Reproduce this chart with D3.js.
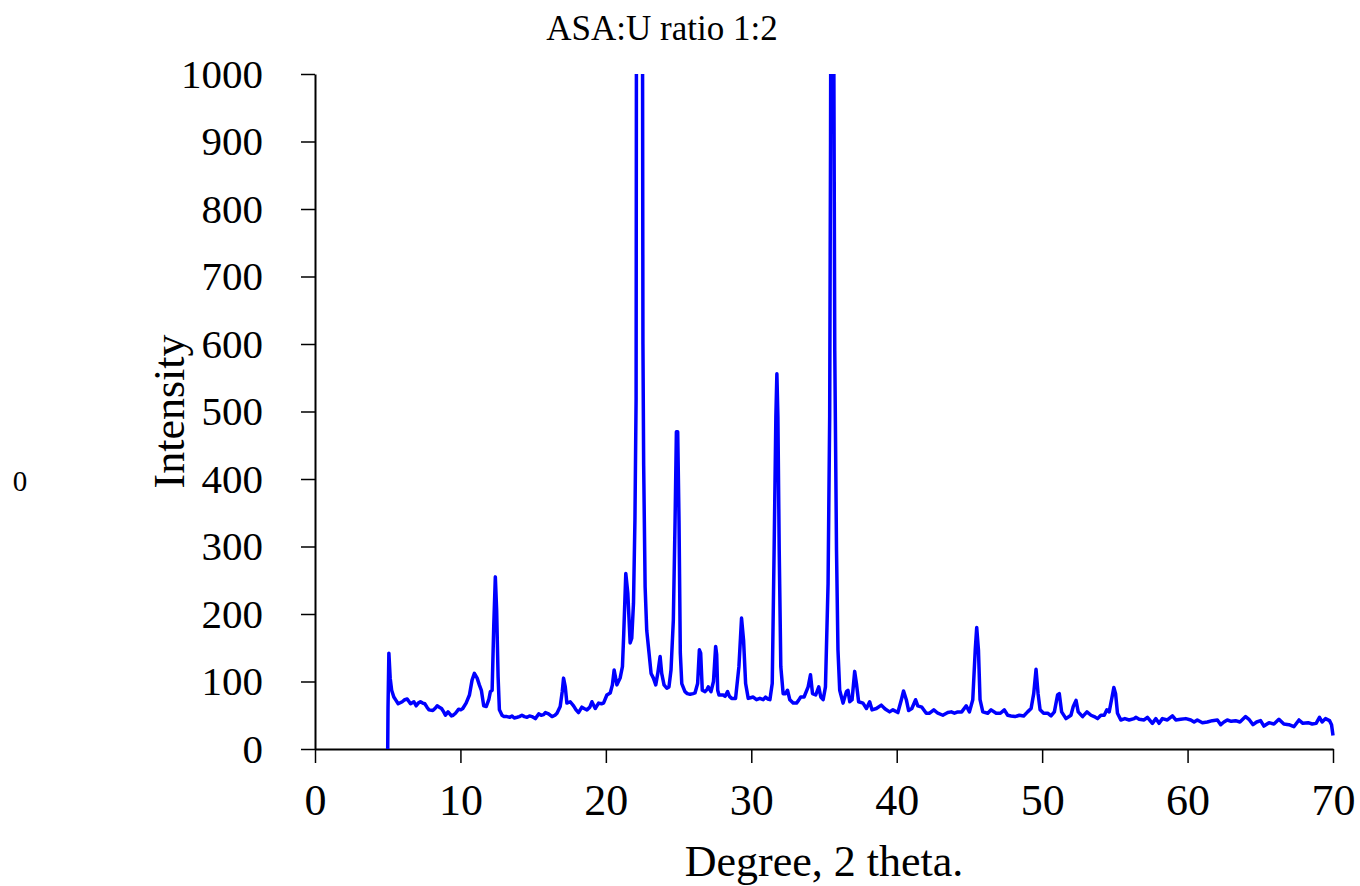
<!DOCTYPE html>
<html>
<head>
<meta charset="utf-8">
<script src="https://cdn.jsdelivr.net/npm/d3@7"></script>
<style>
  html, body { margin: 0; padding: 0; background: #ffffff; }
  svg { display: block; }
  text { font-family: "Liberation Serif", "Times New Roman", serif; fill: #000; }
</style>
</head>
<body>
<svg id="chart" width="1360" height="886"></svg>
<script>
// XRD pattern, ASA:U ratio 1:2 — diffraction angle (2θ, degrees) and intensity
const degrees = [
  5.0, 5.02, 5.08, 5.17, 5.27, 5.42, 5.57, 5.72, 6.0, 6.17, 6.34, 6.57, 6.8, 6.96, 7.1, 7.25, 7.4, 7.55, 7.7, 7.83,
  8.1, 8.25, 8.4, 8.55, 8.7, 8.85, 8.97, 9.15, 9.38, 9.5, 9.66, 9.88, 10.02, 10.16, 10.39, 10.62, 10.8, 10.96, 11.15, 11.3,
  11.44, 11.6, 11.78, 11.95, 12.06, 12.18, 12.29, 12.4, 12.49, 12.59, 12.68, 12.86, 13.0, 13.2, 13.4, 13.55, 13.7, 13.9, 14.05, 14.23,
  14.4, 14.58, 14.75, 14.92, 15.15, 15.38, 15.55, 15.72, 15.84, 16.06, 16.3, 16.5, 16.64, 16.86, 17.0, 17.09, 17.21, 17.32, 17.55, 17.78,
  17.95, 18.12, 18.35, 18.5, 18.7, 18.9, 19.04, 19.27, 19.5, 19.7, 19.84, 20.07, 20.3, 20.45, 20.57, 20.76, 20.98, 21.14, 21.23, 21.37,
  21.51, 21.67, 21.78, 21.9, 22.0, 22.08, 22.15, 22.3, 22.45, 22.55, 22.6, 22.7, 22.81, 22.97, 23.11, 23.27, 23.43, 23.57, 23.73, 23.84,
  24.0, 24.19, 24.34, 24.48, 24.64, 24.76, 24.85, 24.94, 25.03, 25.12, 25.22, 25.44, 25.6, 25.79, 26.0, 26.13, 26.31, 26.43, 26.52, 26.63,
  26.82, 26.95, 27.04, 27.23, 27.4, 27.55, 27.62, 27.69, 27.78, 28.07, 28.2, 28.37, 28.5, 28.65, 28.92, 29.15, 29.33, 29.47, 29.61, 29.79,
  29.95, 30.13, 30.36, 30.59, 30.82, 30.98, 31.15, 31.28, 31.44, 31.57, 31.69, 31.76, 31.83, 31.92, 32.03, 32.19, 32.35, 32.49, 32.65, 32.88,
  33.11, 33.25, 33.4, 33.63, 33.91, 34.07, 34.21, 34.43, 34.64, 34.78, 34.94, 35.1, 35.28, 35.39, 35.45, 35.55, 35.65, 35.74, 35.86, 35.96,
  36.08, 36.31, 36.54, 36.65, 36.77, 36.93, 37.11, 37.23, 37.38, 37.68, 37.92, 38.14, 38.3, 38.6, 38.94, 39.17, 39.29, 39.51, 39.74, 40.08,
  40.32, 40.47, 40.66, 40.82, 41.04, 41.3, 41.45, 41.73, 42.03, 42.26, 42.55, 42.83, 43.17, 43.51, 43.75, 43.97, 44.2, 44.47, 44.78, 45.0,
  45.23, 45.4, 45.5, 45.62, 45.73, 45.92, 46.26, 46.49, 46.84, 47.13, 47.4, 47.63, 47.86, 48.14, 48.43, 48.73, 49.0, 49.24, 49.42, 49.58,
  49.72, 49.86, 50.1, 50.38, 50.61, 50.84, 51.06, 51.18, 51.34, 51.64, 51.98, 52.14, 52.33, 52.48, 52.78, 53.08, 53.36, 53.58, 53.81, 54.04,
  54.27, 54.45, 54.61, 54.77, 54.93, 55.05, 55.18, 55.41, 55.69, 55.98, 56.33, 56.44, 56.67, 57.01, 57.24, 57.58, 57.82, 58.04, 58.27, 58.61,
  58.96, 59.19, 59.53, 59.88, 60.22, 60.45, 60.67, 61.02, 61.36, 61.7, 62.05, 62.28, 62.5, 62.73, 63.0, 63.3, 63.6, 63.99, 64.22, 64.5,
  64.75, 65.02, 65.25, 65.6, 65.94, 66.28, 66.62, 66.97, 67.31, 67.66, 67.93, 68.29, 68.57, 68.84, 69.07, 69.25, 69.48, 69.76, 69.9, 70.0
];
const intensity = [
  0, 60, 142, 105, 87, 77, 72, 67, 70, 73, 74, 67, 70, 64, 68, 70, 68, 67, 62, 58,
  57, 60, 64, 62, 60, 55, 50, 55, 49, 50, 53, 59, 58, 60, 68, 80, 102, 112, 105, 95,
  87, 64, 63, 73, 85, 87, 181, 255, 206, 107, 58, 50, 48, 48, 47, 49, 46, 47, 48, 50,
  48, 47, 49, 48, 45, 52, 50, 51, 54, 52, 48, 50, 53, 63, 85, 105, 92, 68, 70, 64,
  58, 54, 62, 60, 58, 62, 70, 60, 68, 67, 68, 80, 83, 95, 117, 95, 105, 122, 171, 260,
  231, 157, 164, 216, 340, 520, 2200, 2600, 2200, 600, 420, 240, 176, 142, 112, 105, 95, 112, 137, 112,
  95, 90, 92, 117, 191, 339, 470, 470, 339, 142, 97, 85, 82, 81, 82, 83, 97, 147, 142, 87,
  85, 88, 92, 85, 100, 152, 140, 87, 80, 80, 78, 85, 78, 75, 75, 122, 194, 161, 97, 75,
  76, 77, 73, 75, 73, 77, 74, 73, 97, 295, 492, 556, 492, 295, 122, 82, 82, 87, 73, 68,
  68, 72, 77, 77, 92, 110, 82, 80, 92, 77, 73, 92, 245, 492, 900, 2000, 1200, 590, 295, 147,
  87, 68, 85, 87, 70, 73, 115, 97, 70, 68, 60, 70, 58, 60, 65, 60, 58, 55, 58, 54,
  73, 86, 73, 57, 60, 73, 64, 62, 53, 53, 58, 53, 50, 54, 55, 53, 55, 55, 64, 55,
  73, 147, 180, 147, 73, 55, 53, 58, 53, 53, 58, 50, 49, 48, 50, 49, 55, 60, 82, 118,
  82, 58, 53, 53, 49, 55, 80, 82, 55, 45, 50, 63, 72, 55, 48, 55, 50, 48, 45, 50,
  50, 58, 55, 73, 91, 82, 53, 43, 45, 43, 45, 47, 44, 43, 47, 38, 45, 38, 45, 43,
  49, 43, 44, 45, 43, 40, 43, 39, 40, 42, 43, 36, 40, 43, 41, 42, 40, 48, 44, 36,
  40, 42, 34, 39, 37, 44, 37, 36, 33, 43, 38, 39, 37, 38, 47, 40, 45, 42, 36, 20
];
const xTicks = [0, 10, 20, 30, 40, 50, 60, 70];
const yTicks = [0, 100, 200, 300, 400, 500, 600, 700, 800, 900, 1000];

const chartTitle = "ASA:U ratio 1:2";
const xTitle = "Degree, 2 theta.";
const yTitle = "Intensity";

const svg = d3.select("#chart");
const plot = { left: 315, right: 1333, top: 74, bottom: 749 };

const x = d3.scaleLinear().domain([0, 70]).range([plot.left, plot.right]);
const y = d3.scaleLinear().domain([0, 1000]).range([plot.bottom, plot.top]);

// clip region so the off-scale peaks are cut at the top of the plot
svg.append("defs").append("clipPath").attr("id", "plot-clip")
  .append("rect")
  .attr("x", plot.left).attr("y", plot.top)
  .attr("width", plot.right - plot.left + 4)
  .attr("height", plot.bottom - plot.top + 2);

// axes
const xAxis = d3.axisBottom(x).tickValues(xTicks).tickFormat(d3.format("d"))
  .tickSize(14).tickSizeOuter(0).tickPadding(21);
const yAxis = d3.axisLeft(y).tickValues(yTicks).tickFormat(d3.format("d"))
  .tickSize(14).tickSizeOuter(0).tickPadding(38);

const gx = svg.append("g").attr("transform", `translate(0,${plot.bottom})`).call(xAxis);
const gy = svg.append("g").attr("transform", `translate(${plot.left},0)`).call(yAxis);

[gx, gy].forEach(g => {
  g.select(".domain").attr("stroke", "#000").attr("stroke-width", 2);
  g.selectAll(".tick line").attr("stroke", "#000").attr("stroke-width", 1.5);
  g.selectAll(".tick text")
    .attr("fill", "#000")
    .style("font-family", '"Liberation Serif", "Times New Roman", serif');
});
gx.selectAll(".tick text").style("font-size", "44px");
gy.selectAll(".tick text").style("font-size", "41px");

// data line
const line = d3.line()
  .x((d, i) => x(degrees[i]))
  .y((d, i) => y(intensity[i]));

svg.append("path")
  .datum(intensity)
  .attr("clip-path", "url(#plot-clip)")
  .attr("fill", "none")
  .attr("stroke", "#0000ff")
  .attr("stroke-width", 3.5)
  .attr("stroke-linejoin", "round")
  .attr("d", line);

// titles
svg.append("text")
  .attr("x", 662).attr("y", 40)
  .attr("text-anchor", "middle")
  .style("font-size", "35px")
  .text(chartTitle);

svg.append("text")
  .attr("x", (plot.left + plot.right) / 2).attr("y", 876)
  .attr("text-anchor", "middle")
  .style("font-size", "44px")
  .text(xTitle);

svg.append("text")
  .attr("transform", `translate(184,${(plot.top + plot.bottom) / 2}) rotate(-90)`)
  .attr("text-anchor", "middle")
  .style("font-size", "44px")
  .text(yTitle);

// stray zero label at the far left
svg.append("text")
  .attr("x", 20).attr("y", 491)
  .attr("text-anchor", "middle")
  .style("font-size", "29px")
  .text("0");
</script>
</body>
</html>
